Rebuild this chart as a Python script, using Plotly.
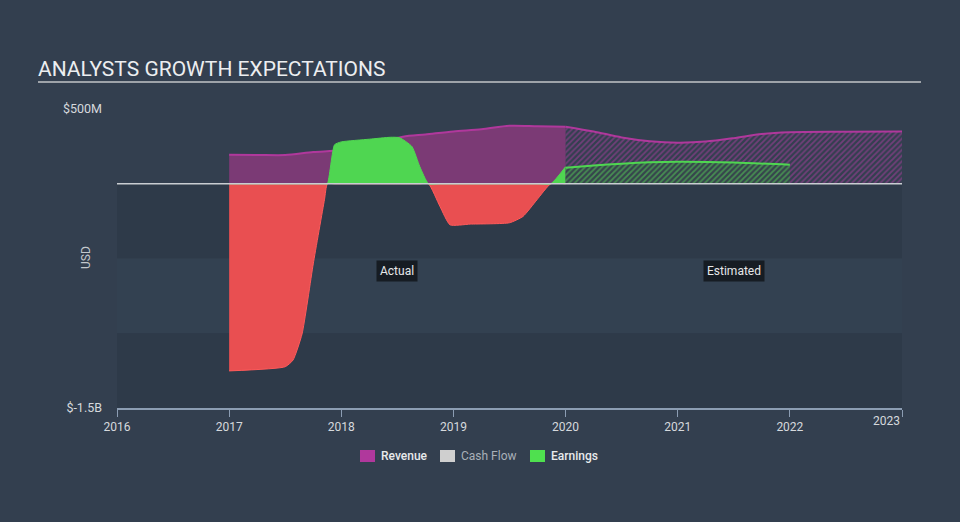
import plotly.graph_objects as go

# ---------------- data (USD millions) ----------------
rev_actual_x = [2017.0, 2017.25, 2017.5, 2017.75, 2018.0, 2018.25, 2018.55, 2018.75,
                2019.0, 2019.25, 2019.5, 2019.75, 2020.0]
rev_actual_y = [194, 193, 192, 212, 225, 265, 315, 330, 350, 365, 388, 385, 382]

rev_est_x = [2020.0, 2020.25, 2020.5, 2020.75, 2021.0, 2021.25, 2021.5, 2021.75,
             2022.0, 2022.5, 2023.0]
rev_est_y = [382, 350, 310, 285, 275, 282, 305, 333, 345, 348, 350]

earn_actual_x = [2017.0, 2017.5, 2017.57, 2017.65, 2017.75, 2017.85, 2017.94, 2018.0,
                 2018.25, 2018.44, 2018.52, 2018.63, 2018.70, 2018.88, 2018.97,
                 2019.15, 2019.5, 2019.62, 2019.745, 2020.0]
earn_actual_y = [-1252, -1224, -1179, -1005, -536, -107, 261, 280,
                 298, 311, 308, 249, 115, -152, -275,
                 -270, -261, -219, -107, 114]

earn_est_x = [2020.0, 2020.25, 2020.5, 2020.75, 2021.0, 2021.5, 2022.0]
earn_est_y = [107, 122, 134, 143, 147, 142, 127]

year_ticks = [2016, 2017, 2018, 2019, 2020, 2021, 2022, 2023]
year_labels = ["2016", "2017", "2018", "2019", "2020", "2021", "2022", "2023"]
y_ticks = [500, -1500]
y_labels = ["$500M", "$-1.5B"]

legend_names = ["Revenue", "Cash Flow", "Earnings"]
legend_colors = ["#b0389c", "#cfcfcf", "#4fe04f"]
legend_text_colors = ["#e8eaec", "#a9b0b8", "#e8eaec"]

title_text = "ANALYSTS GROWTH EXPECTATIONS"
period_labels = ["Actual", "Estimated"]
period_x = [2018.5, 2021.5]
period_y = -583

# ---------------- colours ----------------
PAPER = "#333f4f"
BAND_DARK = "#2e3a49"
BAND_MID = "#334151"
REV_FILL = "#7b3a75"
REV_LINE = "#b0389c"
GREEN = "#4fd651"
RED = "#e94f51"
RED_LINE = "#ff5a5a"


def split_sign(xs, ys):
    """insert zero crossings and return positive and negative parts"""
    nx, ny = [xs[0]], [ys[0]]
    for i in range(1, len(xs)):
        x0, y0, x1, y1 = xs[i - 1], ys[i - 1], xs[i], ys[i]
        if (y0 < 0 < y1) or (y0 > 0 > y1):
            xc = x0 + (x1 - x0) * (-y0) / (y1 - y0)
            nx.append(xc)
            ny.append(0)
        nx.append(x1)
        ny.append(y1)
    pos = [max(v, 0) for v in ny]
    neg = [min(v, 0) for v in ny]
    return nx, pos, neg


ex, epos, eneg = split_sign(earn_actual_x, earn_actual_y)

fig = go.Figure()

# revenue actual
fig.add_trace(go.Scatter(
    x=rev_actual_x, y=rev_actual_y, mode="lines", fill="tozeroy",
    fillcolor=REV_FILL, line=dict(color=REV_LINE, width=2, shape="spline", smoothing=0.8),
    hoverinfo="skip", showlegend=False))
# revenue estimated (hatched)
fig.add_trace(go.Scatter(
    x=rev_est_x, y=rev_est_y, mode="lines", fill="tozeroy",
    fillcolor="rgba(0,0,0,0)",
    fillpattern=dict(shape="/", fgcolor="#b03ea3", bgcolor="rgba(0,0,0,0)",
                     size=4, solidity=0.45),
    line=dict(color=REV_LINE, width=2, shape="spline", smoothing=0.8),
    hoverinfo="skip", showlegend=False))
# earnings actual negative
fig.add_trace(go.Scatter(
    x=ex, y=eneg, mode="lines", fill="tozeroy", fillcolor=RED,
    line=dict(color=RED_LINE, width=1, shape="spline", smoothing=0.5),
    hoverinfo="skip", showlegend=False))
# earnings actual positive
fig.add_trace(go.Scatter(
    x=ex, y=epos, mode="lines", fill="tozeroy", fillcolor=GREEN,
    line=dict(color=GREEN, width=1, shape="spline", smoothing=0.5),
    hoverinfo="skip", showlegend=False))
# earnings estimated (hatched)
fig.add_trace(go.Scatter(
    x=earn_est_x, y=earn_est_y, mode="lines", fill="tozeroy",
    fillcolor="#36444c",
    fillpattern=dict(shape="/", fgcolor="#58d858", bgcolor="#36444c",
                     size=4, solidity=0.45),
    line=dict(color=GREEN, width=2, shape="spline", smoothing=0.8),
    hoverinfo="skip", showlegend=False))

# ---------------- layout geometry (pixels) ----------------
W, H = 960, 522
L, R, T, B = 117, 58, 109, 114
PW, PH = W - L - R, H - T - B


def px(xp):
    return (xp - L) / PW


def py(yp):
    return (H - B - yp) / PH


shapes = [
    dict(type="rect", xref="x", yref="y", x0=2016, x1=2023, y0=0, y1=-500,
         fillcolor=BAND_DARK, line_width=0, layer="below"),
    dict(type="rect", xref="x", yref="y", x0=2016, x1=2023, y0=-500, y1=-1000,
         fillcolor=BAND_MID, line_width=0, layer="below"),
    dict(type="rect", xref="x", yref="y", x0=2016, x1=2023, y0=-1000, y1=-1500,
         fillcolor=BAND_DARK, line_width=0, layer="below"),
    # zero line
    dict(type="line", xref="x", yref="y", x0=2016, x1=2023, y0=0, y1=0,
         line=dict(color="#c9cdd2", width=1.5), layer="above"),
    # title underline
    dict(type="line", xref="paper", yref="paper", x0=px(38), x1=px(921),
         y0=py(82), y1=py(82), line=dict(color="#9ea3a9", width=2)),
]

annotations = [
    dict(text=title_text, xref="paper", yref="paper", x=px(36), y=py(69),
         xanchor="left", yanchor="middle", showarrow=False,
         font=dict(family="Roboto", size=21, color="#eceef0")),
    dict(text="USD", xref="paper", yref="paper", x=px(86), y=py(258),
         textangle=-90, showarrow=False, xanchor="center", yanchor="middle",
         font=dict(family="Roboto", size=12, color="#c3c8cd")),
    dict(text=year_labels[-1], xref="x", yref="paper", x=year_ticks[-1], y=py(421),
         xanchor="right", yanchor="middle", showarrow=False,
         font=dict(family="Roboto", size=12, color="#d6d9dd")),
]
for lbl, xv in zip(period_labels, period_x):
    annotations.append(dict(
        text=lbl, x=xv, y=period_y, xref="x", yref="y", showarrow=False,
        bgcolor="#161c23", borderpad=3,
        font=dict(family="Roboto", size=12, color="#e6e8ea")))

# manual legend
legend_sq_x = [360, 440, 530]
legend_weights = [500, 400, 500]
for name, col, tcol, sx, wt in zip(legend_names, legend_colors, legend_text_colors,
                                   legend_sq_x, legend_weights):
    shapes.append(dict(type="rect", xref="paper", yref="paper",
                       x0=px(sx), x1=px(sx + 15), y0=py(462), y1=py(450),
                       fillcolor=col, line_width=0))
    annotations.append(dict(text=name,
                            xref="paper", yref="paper",
                            x=px(sx + 19), y=py(456), xanchor="left", yanchor="middle",
                            showarrow=False,
                            font=dict(family="Roboto", size=12, color=tcol, weight=wt)))

tick_text = year_labels[:-1] + [""]

fig.update_layout(
    width=W, height=H,
    margin=dict(l=L, r=R, t=T, b=B),
    paper_bgcolor=PAPER, plot_bgcolor=PAPER,
    shapes=shapes, annotations=annotations,
    showlegend=False,
    font=dict(family="Roboto", color="#d6d9dd"),
    xaxis=dict(range=[2016, 2023], tickvals=year_ticks, ticktext=tick_text,
               showgrid=False, zeroline=False, showline=True,
               linecolor="#8c9db3", linewidth=1.5, ticks="outside", ticklen=7,
               tickcolor="#8c9db3", tickwidth=1,
               tickfont=dict(family="Roboto", size=12, color="#d6d9dd"),
               fixedrange=True),
    yaxis=dict(range=[-1500, 500], tickvals=y_ticks, ticktext=y_labels,
               showgrid=False, zeroline=False, showline=False, ticks="",
               ticklabelstandoff=14,
               tickfont=dict(family="Roboto", size=12.5, color="#d6d9dd"),
               fixedrange=True),
)

fig.write_html("out.html")
